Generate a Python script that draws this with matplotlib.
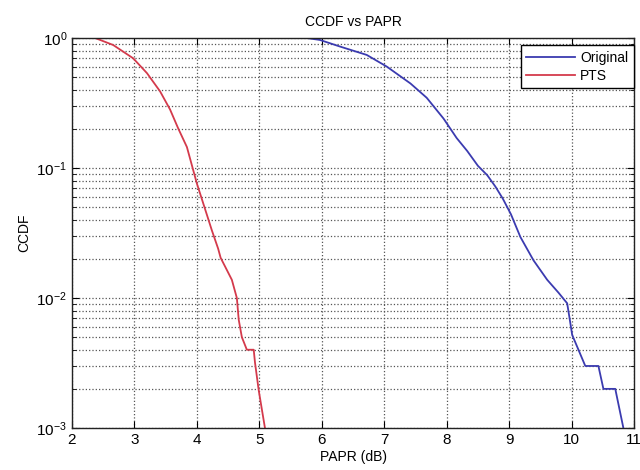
import matplotlib
matplotlib.use("Agg")
import matplotlib.pyplot as plt
from matplotlib.ticker import LogLocator, FixedLocator, NullFormatter

plt.rcParams['font.family'] = ['Liberation Sans', 'DejaVu Sans']

# PTS curve
pts_x = [2.37, 2.66, 2.98, 3.20, 3.41, 3.57, 3.70, 3.84, 4.00, 4.16, 4.24, 4.34,
         4.38, 4.56, 4.64, 4.67, 4.72, 4.80, 4.91, 4.93, 4.99, 5.09]
pts_y = [1.0, 0.883, 0.698, 0.537, 0.389, 0.282, 0.202, 0.145, 0.0759, 0.0437,
         0.0331, 0.024, 0.0204, 0.0138, 0.010, 0.0068, 0.005, 0.004, 0.004,
         0.0032, 0.00195, 0.001]

# Original curve
orig_x = [5.76, 5.97, 6.30, 6.72, 7.04, 7.42, 7.68, 7.95, 8.16, 8.33, 8.50, 8.65,
          8.78, 8.90, 9.03, 9.18, 9.39, 9.61, 9.79, 9.93, 9.97, 10.01, 10.22,
          10.43, 10.51, 10.70, 10.83]
orig_y = [1.0, 0.966, 0.857, 0.741, 0.603, 0.447, 0.347, 0.240, 0.170, 0.135,
          0.104, 0.088, 0.072, 0.058, 0.044, 0.0295, 0.0195, 0.0138, 0.011, 0.0091,
          0.0069, 0.0052, 0.003, 0.003, 0.002, 0.002, 0.001]

x_ticks = [2, 3, 4, 5, 6, 7, 8, 9, 10, 11]

fig = plt.figure(figsize=(6.4, 4.7), dpi=100)
ax = fig.add_axes([72/640, 1-428/470, (634-72)/640, (428-38)/470])

ax.semilogy(orig_x, orig_y, color='#3b3bb0', lw=1.3, label='Original')
ax.semilogy(pts_x, pts_y, color='#d43a4c', lw=1.3, label='PTS')

ax.set_xlim(2, 11)
ax.set_ylim(1e-3, 1)
ax.xaxis.set_major_locator(FixedLocator(x_ticks))
ax.yaxis.set_major_locator(LogLocator(base=10, numticks=10))
ax.yaxis.set_minor_locator(LogLocator(base=10, subs=range(2, 10), numticks=20))
ax.yaxis.set_minor_formatter(NullFormatter())

ax.grid(True, which='major', axis='both', linestyle=':', color='#555555', lw=0.9)
ax.grid(True, which='minor', axis='y', linestyle=':', color='#555555', lw=0.9)

ax.tick_params(which='both', direction='in', top=True, right=True, labelsize=11)
ax.tick_params(which='major', length=5)
ax.tick_params(which='minor', length=3)
for s in ax.spines.values():
    s.set_linewidth(1.0)
    s.set_color('#222222')

ax.set_title('CCDF vs PAPR', fontsize=10, pad=9)
ax.set_xlabel('PAPR (dB)', fontsize=10, labelpad=2)
ax.set_ylabel('CCDF', fontsize=10, labelpad=4)

leg = ax.legend(loc='upper right', bbox_to_anchor=(1.0, 0.982), borderaxespad=0,
                fancybox=False, framealpha=1, edgecolor='black', fontsize=10,
                handlelength=3.5, handletextpad=0.4, borderpad=0.4, labelspacing=0.3)
leg.get_frame().set_linewidth(1.0)

fig.savefig('out.png', dpi=100)
